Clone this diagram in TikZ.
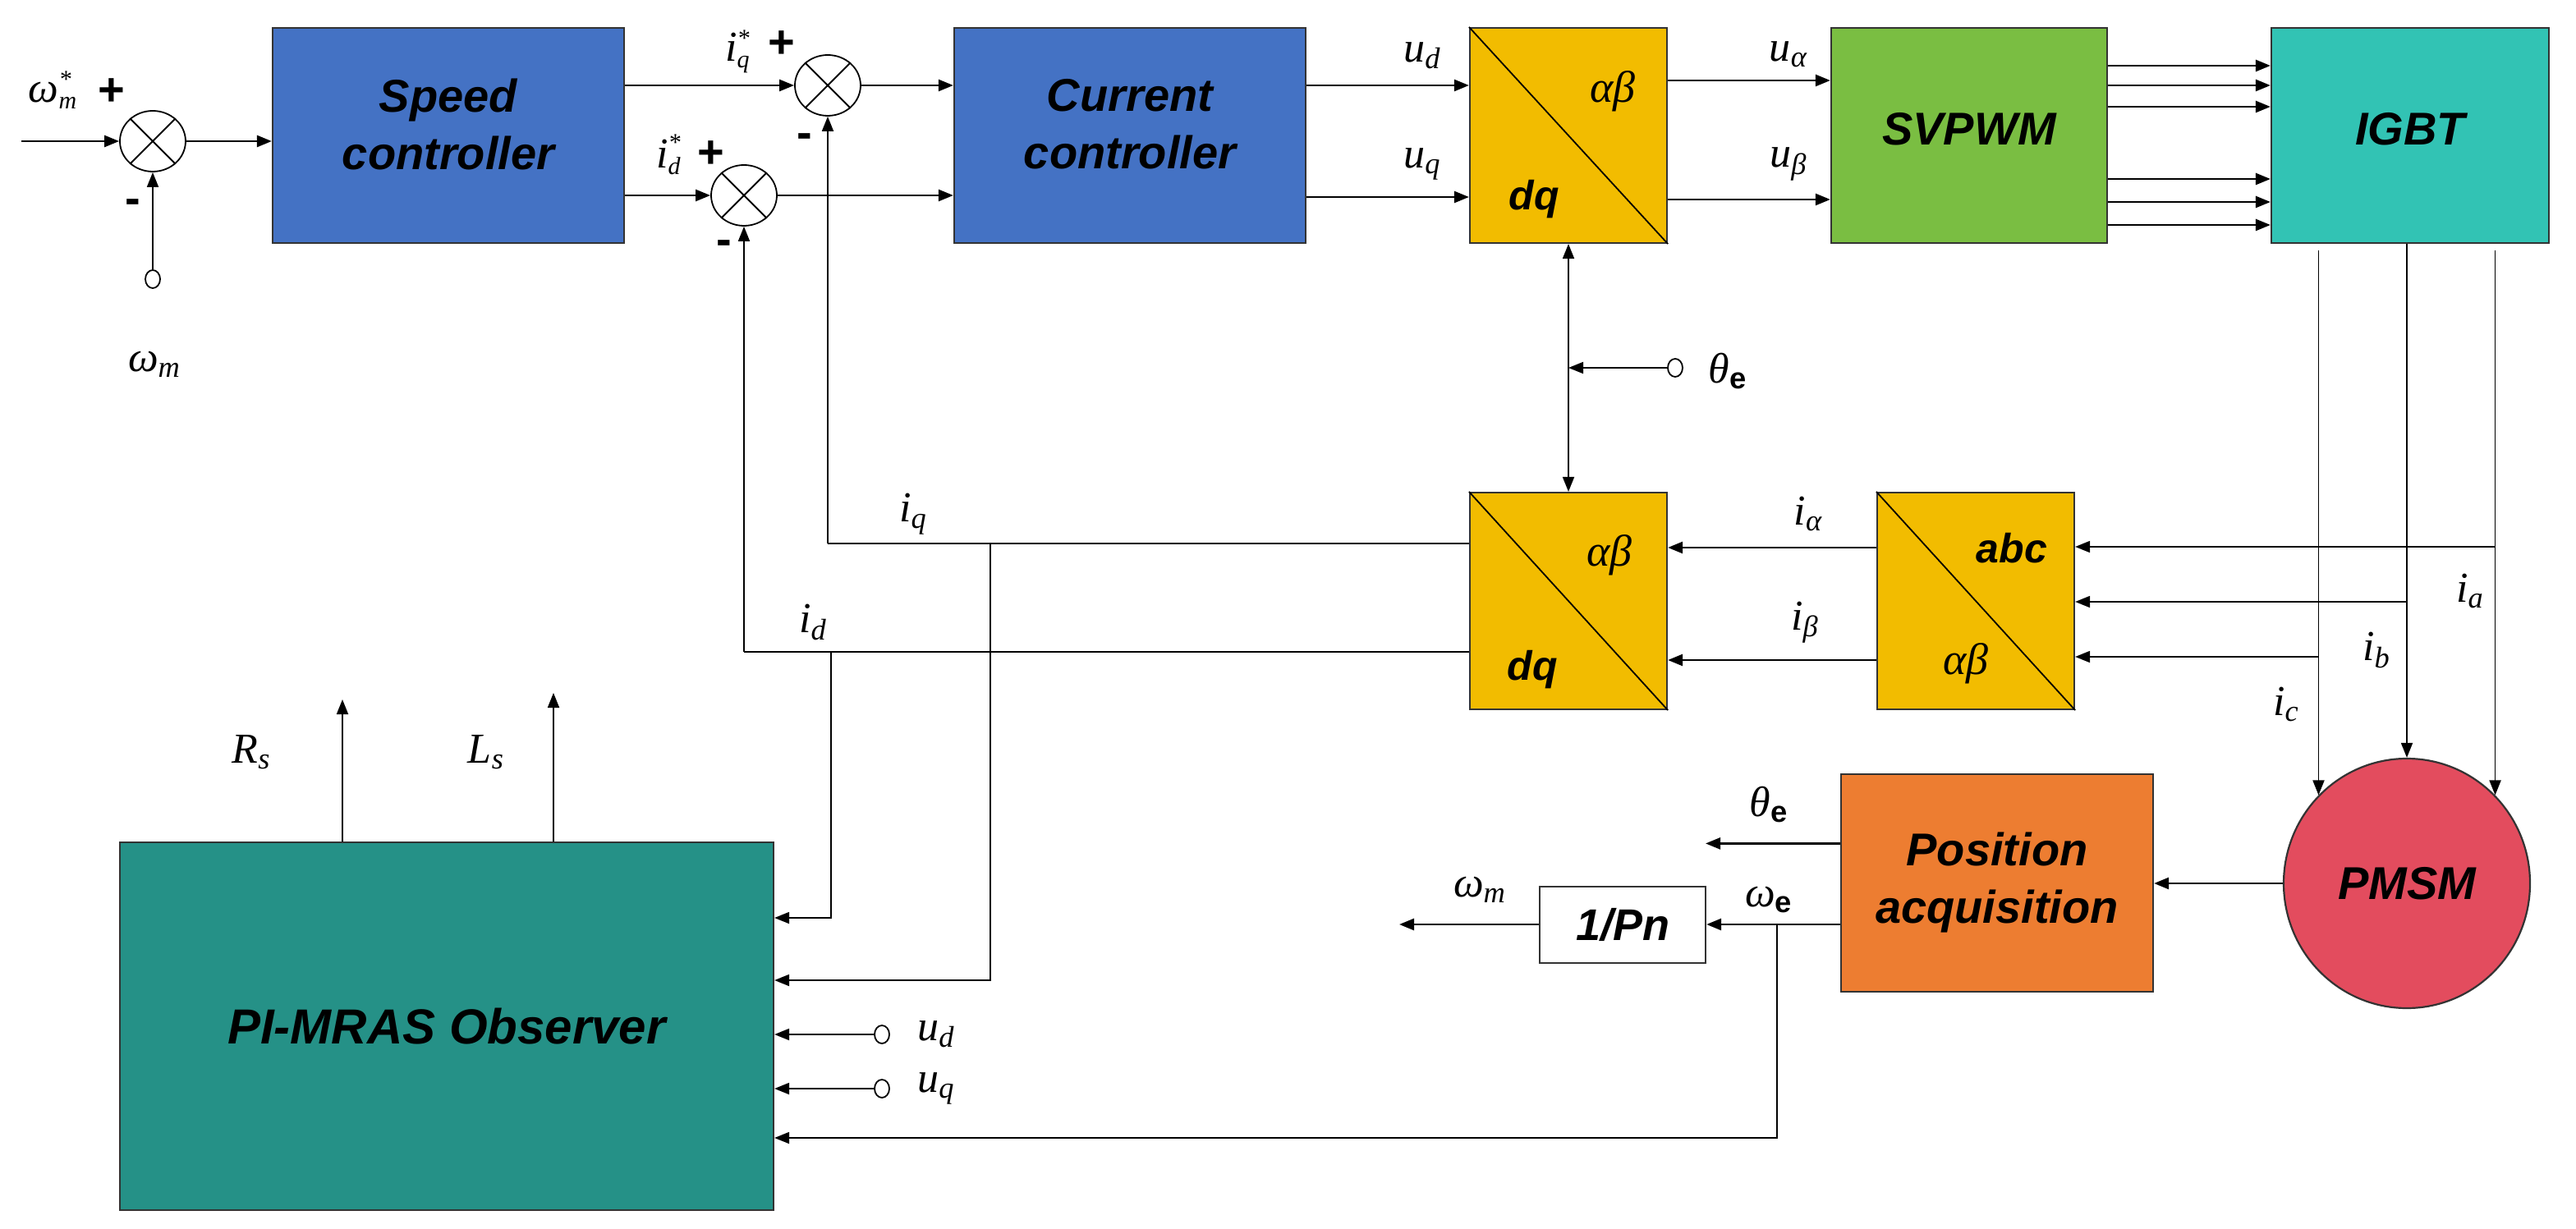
\documentclass[tikz,border=0pt]{standalone}
\usepackage{fontspec}
\setsansfont{Liberation Sans}
\newfontfamily\lser{Liberation Serif}
\usetikzlibrary{arrows.meta,shapes.geometric,calc}
\definecolor{cblue}{RGB}{68,114,196}
\definecolor{cgold}{RGB}{242,188,0}
\definecolor{cgreen}{RGB}{122,190,66}
\definecolor{cteal}{RGB}{50,195,180}
\definecolor{cred}{RGB}{227,76,94}
\definecolor{corange}{RGB}{237,125,49}
\definecolor{cobs}{RGB}{37,145,135}
\newcommand{\sube}{{\sffamily\bfseries\upshape e}}
\newcommand{\ssub}[1]{\textsubscript{#1}}
\newcommand{\ssupsub}[2]{\raisebox{-4pt}{\fontsize{15}{13}\selectfont\begin{tabular}[b]{@{}l@{}}#1\\#2\end{tabular}}}
\begin{document}
\begin{tikzpicture}[x=1pt,y=-1pt,
  >={Triangle[length=9pt,width=7pt]},
  box/.style={draw=black!80,line width=1.1pt,inner sep=0,align=center,
    font=\sffamily\bfseries\itshape\fontsize{28}{35}\selectfont},
  sumnode/.style={ellipse,draw,line width=0.9pt,minimum width=40pt,minimum height=37pt,inner sep=0,fill=white},
  term/.style={ellipse,draw,line width=0.9pt,minimum width=9pt,minimum height=11pt,inner sep=0,fill=white},
  lab/.style={inner sep=0,font=\lser\itshape\fontsize{26}{28}\selectfont},
  sublab/.style={inner sep=0,font=\sffamily\bfseries\itshape\fontsize{25}{27}\selectfont},
  mlab/.style={inner sep=0,font=\lser\itshape\fontsize{27}{29}\selectfont},
  sign/.style={inner sep=0,font=\sffamily\bfseries\fontsize{28}{30}\selectfont},
  main/.style={line width=1.3pt},
  thin/.style={line width=0.9pt}]
\useasboundingbox (0,0) rectangle (1568.5,748.5);
% blocks
\node[box,fill=cblue,minimum width=214pt,minimum height=131pt,text depth=14pt] (speed) at (273,82.5) {Speed\\controller};
\node[box,fill=cblue,minimum width=214pt,minimum height=131pt,text depth=14pt] (current) at (688,82.5) {Current\\controller};
\node[box,fill=cgold,minimum width=120pt,minimum height=131pt] (dqT) at (955,82.5) {};
\node[box,fill=cgreen,minimum width=168pt,minimum height=131pt,text depth=8pt] (svpwm) at (1199,82.5) {SVPWM};
\node[box,fill=cteal,minimum width=169pt,minimum height=131pt,text depth=8pt] (igbt) at (1467.5,82.5) {IGBT};
\node[box,fill=cgold,minimum width=120pt,minimum height=132pt] (dqB) at (955,366) {};
\node[box,fill=cgold,minimum width=120pt,minimum height=132pt] (abc) at (1203,366) {};
\node[box,ellipse,fill=cred,minimum width=150pt,minimum height=152pt] (pmsm) at (1465.5,538) {PMSM};
\node[box,fill=corange,minimum width=190pt,minimum height=132.5pt] (pos) at (1216,537.75) {Position\\acquisition};
\node[box,fill=white,minimum width=101pt,minimum height=46.5pt,font=\sffamily\bfseries\itshape\fontsize{27}{30}\selectfont] (pn) at (988,563.25) {1/Pn};
\node[box,fill=cobs,minimum width=398pt,minimum height=224pt,font=\sffamily\bfseries\itshape\fontsize{30}{34}\selectfont] (obs) at (272,625) {PI-MRAS Observer};
% diagonals
\draw[thin] (dqT.north west) -- (dqT.south east);
\draw[thin] (dqB.north west) -- (dqB.south east);
\draw[thin] (abc.north west) -- (abc.south east);
\node[mlab] (dqTab) at ($(dqT.center)+(27,-27)$) {αβ};
\node[sublab] (dqTdq) at ($(dqT.center)+(-21,39)$) {dq};
\node[mlab] (dqBab) at ($(dqB.center)+(25,-28)$) {αβ};
\node[sublab] (dqBdq) at ($(dqB.center)+(-22,42)$) {dq};
\node[sublab] (abcabc) at ($(abc.center)+(22,-32)$) {abc};
\node[mlab] (abcab) at ($(abc.center)+(-6,38)$) {αβ};
% summing junctions
\node[sumnode] (sum1) at (93,86) {};
\node[sumnode] (sumq) at (504,52) {};
\node[sumnode] (sumd) at (453,119) {};
\foreach \s in {sum1,sumq,sumd}{
  \draw[thin] (\s.45) -- (\s.225);
  \draw[thin] (\s.135) -- (\s.315);
}
% terminals
\node[term] (twm) at (93,170) {};
\node[term] (tth) at (1020,224) {};
\node[term] (tud) at (537,630) {};
\node[term] (tuq) at (537,663) {};
% coordinates
\coordinate (in0) at (13,86);
\coordinate (yuq) at (0,120);
\coordinate (yua) at (0,49);
\coordinate (yub) at (0,121.5);
\coordinate (ig) at ($(igbt.south)+(0,4)$);
\coordinate (ya) at (0,333);
\coordinate (yb) at (0,366.5);
\coordinate (yc) at (0,400);
\coordinate (yia) at (0,333.5);
\coordinate (yib) at (0,402);
\coordinate (yiq) at (0,331);
\coordinate (yid) at (0,397);
\coordinate (xiq) at (603,0);
\coordinate (xid) at (506,0);
\coordinate (yo1) at (0,559);
\coordinate (yo2) at (0,597);
\coordinate (yo3) at (0,693);
\coordinate (ywe) at (0,563);
\coordinate (xwe) at (1082,0);
\coordinate (wmout) at (852,563);
\coordinate (yth) at (0,513.7);
\coordinate (thout) at (1038.5,513.7);
\coordinate (rsend) at (208.5,426);
\coordinate (lsend) at (337,422);
% connectors
\draw[main,->] (in0) -- (sum1.west);
\draw[main,->] (sum1.east) -- (sum1.east -| speed.west);
\draw[thin,->] (twm) -- (sum1.south);
\draw[main,->] (sumq.west -| speed.east) -- (sumq.west);
\draw[main,->] (sumd.west -| speed.east) -- (sumd.west);
\draw[main,->] (sumq.east) -- (sumq.east -| current.west);
\draw[main,->] (sumd.east) -- (sumd.east -| current.west);
\draw[main,->] (sumq.east -| current.east) -- (sumq.east -| dqT.west);
\draw[main,->] (yuq -| current.east) -- (yuq -| dqT.west);
\draw[main,->] (yua -| dqT.east) -- (yua -| svpwm.west);
\draw[main,->] (yub -| dqT.east) -- (yub -| svpwm.west);
\foreach \yy in {40,52,65,109,123,137}{
  \coordinate (g) at (0,\yy);
  \draw[main,->] (g -| svpwm.east) -- (g -| igbt.west);
}
\draw[thin,->] (ig -| pmsm.45) -- (pmsm.45);
\draw[thin,->] (igbt.south -| pmsm.north) -- (pmsm.north);
\draw[thin,->] (ig -| pmsm.135) -- (pmsm.135);
\draw[thin,->] (ya -| pmsm.45) -- (ya -| abc.east);
\draw[thin,->] (yb -| pmsm.north) -- (yb -| abc.east);
\draw[thin,->] (yc -| pmsm.135) -- (yc -| abc.east);
\draw[main,->] (yia -| abc.west) -- (yia -| dqB.east);
\draw[main,->] (yib -| abc.west) -- (yib -| dqB.east);
\draw[main] (yiq -| dqB.west) -- (yiq -| sumq.south);
\draw[thin,->] (yiq -| sumq.south) -- (sumq.south);
\draw[main] (yid -| dqB.west) -- (yid -| sumd.south);
\draw[thin,->] (yid -| sumd.south) -- (sumd.south);
\draw[thin,->] (yiq -| xiq) |- (yo2 -| obs.east);
\draw[thin,->] (yid -| xid) |- (yo1 -| obs.east);
\draw[thin,->] (tud) -- (tud -| obs.east);
\draw[thin,->] (tuq) -- (tuq -| obs.east);
\draw[main,->] (ywe -| pos.west) -- (ywe -| pn.east);
\draw[thin,->] (ywe -| xwe) |- (yo3 -| obs.east);
\draw[main,->] (ywe -| pn.west) -- (wmout);
\draw[main,->] (yth -| pos.west) -- (thout);
\draw[main,->] (pmsm.west) -- (pmsm.west -| pos.east);
\draw[thin,<->] (dqT.south) -- (dqB.north);
\draw[thin,->] (tth) -- (tth -| dqT.south);
\draw[thin,->] (rsend |- obs.north) -- (rsend);
\draw[thin,->] (lsend |- obs.north) -- (lsend);
% labels
\node[lab] (lwms) at (32,57) {ω\ssupsub{*}{m}};
\node[sign] (lplus1) at (68,56) {+};
\node[sign] (lminus1) at (81,126) {-};
\node[lab] (lwm) at (94,222) {ω\ssub{m}};
\node[lab] (liqs) at (449,32) {i\ssupsub{*}{q}};
\node[sign] (lplusq) at (476,27) {+};
\node[lab] (lids) at (407,96) {i\ssupsub{*}{d}};
\node[sign] (lplusd) at (433,94) {+};
\node[sign] (lminq) at (490,86) {-};
\node[sign] (lmind) at (441,151) {-};
\node[lab] (lud) at (866,34) {u\ssub{d}};
\node[lab] (luq) at (866,100) {u\ssub{q}};
\node[lab] (lua) at (1089,33) {u\ssub{α}};
\node[lab] (lub) at (1089,100) {u\ssub{β}};
\node[lab] (lthe) at (1052,226) {θ\ssub{\sube}};
\node[lab] (liq) at (556,313) {i\ssub{q}};
\node[lab] (lid) at (495,379) {i\ssub{d}};
\node[lab] (lia) at (1101,313) {i\ssub{α}};
\node[lab] (lib) at (1099,379) {i\ssub{β}};
\node[lab] (la) at (1504,360) {i\ssub{a}};
\node[lab] (lbb) at (1447,396) {i\ssub{b}};
\node[lab] (lc) at (1392,429) {i\ssub{c}};
\node[lab] (lRs) at (153,458) {R\ssub{s}};
\node[lab] (lLs) at (296,458) {L\ssub{s}};
\node[lab] (lud2) at (570,630) {u\ssub{d}};
\node[lab] (luq2) at (570,663) {u\ssub{q}};
\node[lab] (lthe2) at (1077,490) {θ\ssub{\sube}};
\node[lab] (lwe) at (1077,548) {ω\ssub{\sube}};
\node[lab] (lwm2) at (901,542) {ω\ssub{m}};
\end{tikzpicture}
\end{document}
